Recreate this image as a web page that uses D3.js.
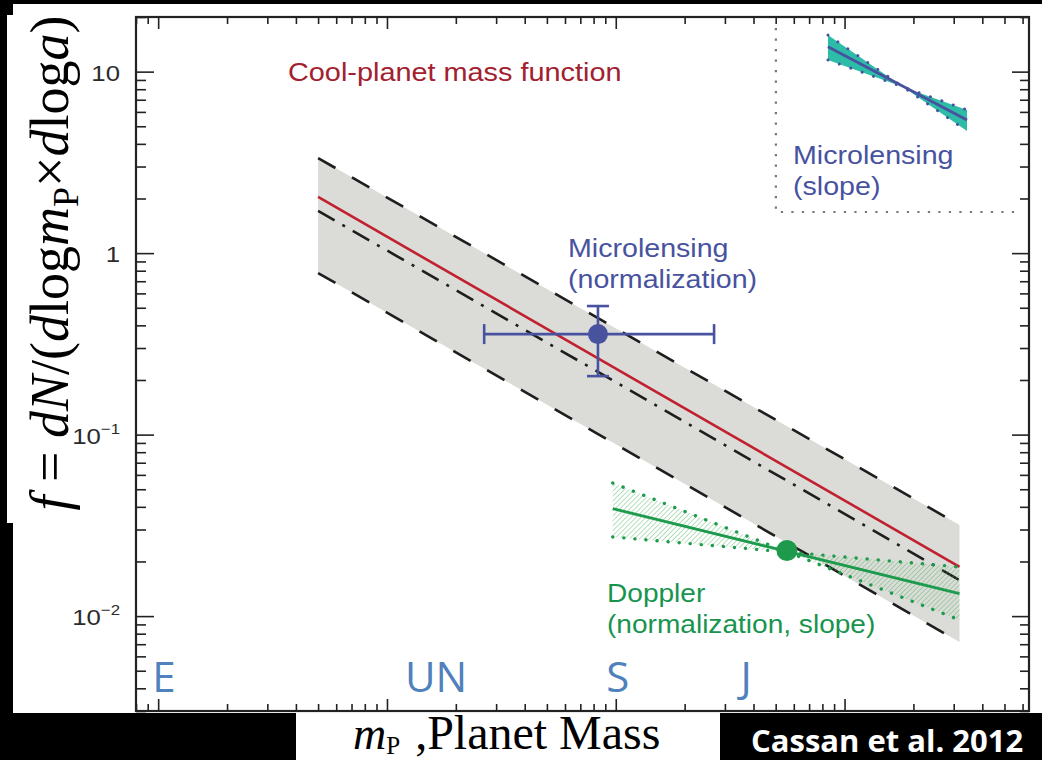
<!DOCTYPE html>
<html>
<head>
<meta charset="utf-8">
<script src="https://cdn.jsdelivr.net/npm/d3@7"></script>
<style>
  html, body { margin: 0; padding: 0; background: #000; overflow: hidden; }
</style>
</head>
<body>
<div id="wrapper"></div>
<script>
// values, planet masses in Earth masses
const massDomain = [0.8, 6400];
const fDomain = [0.003, 20];

const fTickValues = [10, 1, 0.1, 0.01];
const fTickBases = ["10", "1", "10", "10"];
const fTickExps = ["", "", "−1", "−2"];

// cool-planet mass function: best fit, envelope, alternative fit
const coolMass = [5, 3180];
const coolBest = [2.04, 0.0187];
const coolUpper = [3.34, 0.0318];
const coolLower = [0.777, 0.0072];
const coolAlt = [1.71, 0.0158];

// microlensing normalization point
const mlMass = 83.6;
const mlMassErr = [26.6, 269];
const mlF = 0.358;
const mlFErr = [0.21, 0.511];

// doppler normalization + slope
const dopMass = [97, 3180];
const dopBest = [0.0391, 0.0133];
const dopSteep = [0.0541, 0.00952];
const dopFlat = [0.0273, 0.01866];
const dopPointMass = 560;
const dopPointF = 0.023;

// inset: microlensing slope
const slopeMass = [846, 3430];
const slopeBest = [13.7, 5.41];
const slopeSteep = [15.9, 4.71];
const slopeFlat = [11.6, 6.15];
const insetBoxMass = [501, 5845];
const insetBoxF = [1.685, 17.4];

// solar system planets
const planetNames = ["E", "UN", "S", "J"];
const planetMass = [1.06, 16.4, 102, 371];

function drawChart() {
  let dimensions = {
    width: 1042,
    height: 760,
    margin: { top: 17, right: 13, bottom: 49, left: 136 },
  };
  dimensions.boundedWidth = dimensions.width - dimensions.margin.left - dimensions.margin.right;
  dimensions.boundedHeight = dimensions.height - dimensions.margin.top - dimensions.margin.bottom;

  const wrapper = d3.select("#wrapper")
    .append("svg")
    .attr("width", dimensions.width)
    .attr("height", dimensions.height);

  // black slide background with the white cut-outs of the figure
  wrapper.append("rect").attr("width", dimensions.width).attr("height", dimensions.height).attr("fill", "#000");
  wrapper.append("rect").attr("x", 13).attr("y", 4).attr("width", 1029).attr("height", 709).attr("fill", "#fff");
  wrapper.append("rect").attr("x", 7).attr("y", 15).attr("width", 90).attr("height", 508).attr("fill", "#fff");
  wrapper.append("rect").attr("x", 296).attr("y", 712).attr("width", 424).attr("height", 48).attr("fill", "#fff");

  const defs = wrapper.append("defs");
  const hatch = defs.append("pattern")
    .attr("id", "hatch")
    .attr("patternUnits", "userSpaceOnUse")
    .attr("width", 3.5).attr("height", 3.5)
    .attr("patternTransform", "rotate(45)");
  hatch.append("line")
    .attr("x1", 0).attr("y1", 0).attr("x2", 0).attr("y2", 3.5)
    .attr("stroke", "rgba(70,175,90,0.5)").attr("stroke-width", 1.6);

  const bounds = wrapper.append("g")
    .attr("transform", `translate(${dimensions.margin.left},${dimensions.margin.top})`);

  const xScale = d3.scaleLog().domain(massDomain).range([0, dimensions.boundedWidth]);
  const yScale = d3.scaleLog().domain(fDomain).range([dimensions.boundedHeight, 0]);

  const lineGen = d3.line().x((d) => xScale(d[0])).y((d) => yScale(d[1]));
  const pts = (ys, xs) => xs.map((m, i) => [m, ys[i]]);

  // grey envelope of the cool-planet mass function
  const band = d3.area()
    .x((d, i) => xScale(coolMass[i]))
    .y0((d) => yScale(d[0]))
    .y1((d) => yScale(d[1]));
  bounds.append("path")
    .attr("d", band(coolLower.map((v, i) => [v, coolUpper[i]])))
    .attr("fill", "#dbdcd8");

  [coolUpper, coolLower].forEach((s) => {
    bounds.append("path")
      .attr("d", lineGen(pts(s, coolMass)))
      .attr("fill", "none").attr("stroke", "#1e1e1e")
      .attr("stroke-width", 2.6).attr("stroke-dasharray", "20 19");
  });
  bounds.append("path")
    .attr("d", lineGen(pts(coolAlt, coolMass)))
    .attr("fill", "none").attr("stroke", "#1e1e1e")
    .attr("stroke-width", 2.6).attr("stroke-dasharray", "19 9 3 9");
  bounds.append("path")
    .attr("d", lineGen(pts(coolBest, coolMass)))
    .attr("fill", "none").attr("stroke", "#c1202f").attr("stroke-width", 2.6);

  // doppler bow-tie
  const bow = [[dopMass[0], dopSteep[0]], [dopMass[1], dopSteep[1]], [dopMass[1], dopFlat[1]], [dopMass[0], dopFlat[0]]];
  bounds.append("path").attr("d", lineGen(bow) + "Z").attr("fill", "url(#hatch)");
  [dopSteep, dopFlat].forEach((s) => {
    bounds.append("path")
      .attr("d", lineGen(pts(s, dopMass)))
      .attr("fill", "none").attr("stroke", "#1e9a4c")
      .attr("stroke-width", 3.4).attr("stroke-linecap", "round")
      .attr("stroke-dasharray", "0.1 11");
  });
  bounds.append("path")
    .attr("d", lineGen(pts(dopBest, dopMass)))
    .attr("fill", "none").attr("stroke", "#1e9a4c").attr("stroke-width", 2.8);
  bounds.append("circle")
    .attr("cx", xScale(dopPointMass)).attr("cy", yScale(dopPointF))
    .attr("r", 10.5).attr("fill", "#1e9a4c");

  // microlensing normalization point with error bars
  const blue = "#48529f";
  const ml = bounds.append("g").attr("stroke", blue).attr("stroke-width", 2.6);
  ml.append("line")
    .attr("x1", xScale(mlMassErr[0])).attr("x2", xScale(mlMassErr[1]))
    .attr("y1", yScale(mlF)).attr("y2", yScale(mlF));
  mlMassErr.forEach((m) => {
    ml.append("line")
      .attr("x1", xScale(m)).attr("x2", xScale(m))
      .attr("y1", yScale(mlF) - 10).attr("y2", yScale(mlF) + 10);
  });
  ml.append("line")
    .attr("x1", xScale(mlMass)).attr("x2", xScale(mlMass))
    .attr("y1", yScale(mlFErr[0])).attr("y2", yScale(mlFErr[1]));
  mlFErr.forEach((f) => {
    ml.append("line")
      .attr("x1", xScale(mlMass) - 11).attr("x2", xScale(mlMass) + 11)
      .attr("y1", yScale(f)).attr("y2", yScale(f));
  });
  bounds.append("circle")
    .attr("cx", xScale(mlMass)).attr("cy", yScale(mlF))
    .attr("r", 10).attr("fill", blue);

  // inset with the microlensing slope
  bounds.append("path")
    .attr("d", lineGen([[insetBoxMass[0], insetBoxF[1]], [insetBoxMass[0], insetBoxF[0]], [insetBoxMass[1], insetBoxF[0]]]))
    .attr("fill", "none").attr("stroke", "#777")
    .attr("stroke-width", 2.2).attr("stroke-dasharray", "2.2 8.3");
  const slopeBow = [[slopeMass[0], slopeSteep[0]], [slopeMass[1], slopeSteep[1]], [slopeMass[1], slopeFlat[1]], [slopeMass[0], slopeFlat[0]]];
  bounds.append("path").attr("d", lineGen(slopeBow) + "Z").attr("fill", "#2dbca8");
  [slopeSteep, slopeFlat].forEach((s) => {
    bounds.append("path")
      .attr("d", lineGen(pts(s, slopeMass)))
      .attr("fill", "none").attr("stroke", blue)
      .attr("stroke-width", 3).attr("stroke-linecap", "round")
      .attr("stroke-dasharray", "0.1 12");
  });
  bounds.append("path")
    .attr("d", lineGen(pts(slopeBest, slopeMass)))
    .attr("fill", "none").attr("stroke", blue).attr("stroke-width", 2.8);

  // AXES: log ticks pointing inward on all four sides
  const isDecade = (d) => Math.abs(Math.log10(d) - Math.round(Math.log10(d))) < 1e-6;
  const xTicks = xScale.ticks();
  const yTicks = yScale.ticks();
  const styleAxis = (g) => {
    g.select(".domain").remove();
    g.selectAll(".tick line").attr("stroke", "#222").attr("stroke-width", 1.6);
  };
  const axisSpecs = [
    [d3.axisBottom, xScale, xTicks, `translate(0,${dimensions.boundedHeight})`, -12, -7],
    [d3.axisTop, xScale, xTicks, "translate(0,0)", -12, -7],
    [d3.axisLeft, yScale, yTicks, "translate(0,0)", -18, -10],
    [d3.axisRight, yScale, yTicks, `translate(${dimensions.boundedWidth},0)`, -17, -9],
  ];
  axisSpecs.forEach(([axisFn, scale, ticks, tr, majorLen, minorLen]) => {
    bounds.append("g").attr("transform", tr)
      .call(axisFn(scale).tickValues(ticks.filter(isDecade)).tickSize(majorLen).tickFormat(""))
      .call(styleAxis);
    bounds.append("g").attr("transform", tr)
      .call(axisFn(scale).tickValues(ticks.filter((d) => !isDecade(d))).tickSize(minorLen).tickFormat(""))
      .call(styleAxis);
  });

  bounds.append("rect")
    .attr("width", dimensions.boundedWidth).attr("height", dimensions.boundedHeight)
    .attr("fill", "none").attr("stroke", "#222").attr("stroke-width", 2.2);

  // text helper: Helvetica-ish labels, a bit wider than the font
  const sans = "'Liberation Sans', Arial, Helvetica, sans-serif";
  const label = (parent, x, y, str, color, size, k, anchor) =>
    parent.append("text")
      .attr("transform", `translate(${x},${y}) scale(${k},1)`)
      .attr("text-anchor", anchor || "start")
      .style("font-family", sans).style("font-size", size + "px")
      .attr("fill", color).text(str);

  // y tick labels
  fTickValues.forEach((v, i) => {
    const t = label(wrapper, 120, dimensions.margin.top + yScale(v) + 9, fTickBases[i], "#2b2b2b", 23, 1.12, "end");
    if (fTickExps[i]) {
      t.text(null);
      t.append("tspan").text(fTickBases[i]);
      t.append("tspan").attr("dy", -10).style("font-size", "15px").text(fTickExps[i]);
    }
  });

  // annotations
  label(wrapper, 288, 81, "Cool-planet mass function", "#a3202e", 26, 1.11);
  label(wrapper, 568, 257, "Microlensing", blue, 26, 1.1);
  label(wrapper, 568, 288, "(normalization)", blue, 26, 1.1);
  label(wrapper, 793, 164, "Microlensing", blue, 26, 1.1);
  label(wrapper, 793, 195, "(slope)", blue, 26, 1.1);
  label(wrapper, 607, 602, "Doppler", "#17944e", 26, 1.08);
  label(wrapper, 607, 633, "(normalization, slope)", "#17944e", 26, 1.08);

  // solar system planets marked along the bottom
  planetNames.forEach((name, i) => {
    wrapper.append("text")
      .attr("x", dimensions.margin.left + xScale(planetMass[i]))
      .attr("y", 692)
      .attr("text-anchor", "middle")
      .style("font-family", "'Open Sans', 'Noto Sans', sans-serif")
      .style("font-size", "42px")
      .attr("fill", "#4f81bd")
      .text(name);
  });

  // axis titles in Times
  const serif = "'Liberation Serif', 'Times New Roman', serif";
  const yLabel = wrapper.append("text")
    .attr("transform", "translate(68,263) rotate(-90)")
    .attr("text-anchor", "middle")
    .style("font-family", serif).style("font-size", "54px").attr("fill", "#000");
  const parts = [
    ["f", "italic"], [" = ", null], ["dN", "italic"], ["/(", null], ["d", "italic"], ["log", null],
    ["m", "italic"], ["P", "sub"], ["×", "up"], ["d", "italic"], ["log", null], ["a", "italic"], [")", null],
  ];
  parts.forEach(([s, kind]) => {
    const ts = yLabel.append("tspan").text(s);
    if (kind === "italic") ts.style("font-style", "italic");
    if (kind === "sub") ts.attr("dy", 10).style("font-size", "36px");
    if (kind === "up") ts.attr("dy", -10);
  });

  const xLabel = wrapper.append("text")
    .attr("x", 353).attr("y", 749)
    .style("font-family", serif).style("font-size", "46px").attr("fill", "#000");
  xLabel.append("tspan").style("font-style", "italic").text("m");
  xLabel.append("tspan").attr("dy", 5).style("font-size", "25px").text("P");
  xLabel.append("tspan").attr("dy", -5).attr("dx", 3).style("font-size", "48px").text(" ,Planet Mass");

  wrapper.append("text")
    .attr("x", 751).attr("y", 752)
    .style("font-family", "'Open Sans', sans-serif").style("font-weight", 700)
    .style("font-size", "31px").attr("fill", "#fff")
    .text("Cassan et al. 2012");
}
drawChart();
</script>
</body>
</html>
